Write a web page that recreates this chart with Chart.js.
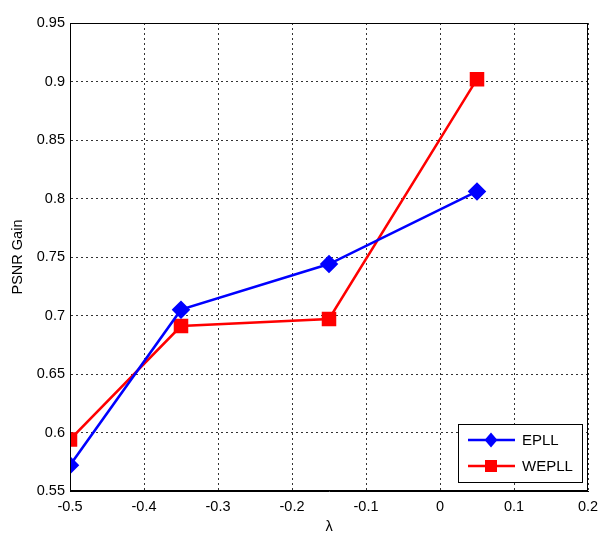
<!DOCTYPE html>
<html>
<head>
<meta charset="utf-8">
<script src="https://cdn.jsdelivr.net/npm/chart.js@4/dist/chart.umd.min.js"></script>
<style>
html,body{margin:0;padding:0;background:#fff;}
#wrap{width:600px;height:538px;position:relative;}
</style>
</head>
<body>
<div id="wrap"><canvas id="c" width="600" height="538"></canvas></div>
<script>
// ---- data ----
const lambdaValues = [-0.5, -0.35, -0.15, 0.05];
const epllGain = [0.572, 0.705, 0.744, 0.806];
const wepllGain = [0.594, 0.691, 0.697, 0.902];
const seriesNames = ['EPLL', 'WEPLL'];
const xTickValues = [-0.5, -0.4, -0.3, -0.2, -0.1, 0, 0.1, 0.2];
const xTickLabels = ['-0.5', '-0.4', '-0.3', '-0.2', '-0.1', '0', '0.1', '0.2'];
const yTickValues = [0.55, 0.6, 0.65, 0.7, 0.75, 0.8, 0.85, 0.9, 0.95];
const yTickLabels = ['0.55', '0.6', '0.65', '0.7', '0.75', '0.8', '0.85', '0.9', '0.95'];
const xTitle = 'λ';
const yTitle = 'PSNR Gain';

const FONT = "'Liberation Sans', Arial, Helvetica, sans-serif";

function toPoints(xs, ys) { return xs.map((x, i) => ({x: x, y: ys[i]})); }

const framePlugin = {
  id: 'frame',
  afterDraw(chart) {
    const {ctx, chartArea: a} = chart;
    ctx.save();
    ctx.strokeStyle = '#000';
    ctx.lineWidth = 1;
    ctx.strokeRect(a.left + 0.5, a.top + 0.5, a.right - a.left - 1, a.bottom - a.top - 1);
    ctx.restore();
  }
};

function drawMarker(ctx, style, x, y, r, color) {
  ctx.fillStyle = color;
  ctx.beginPath();
  if (style === 'rectRot') {
    ctx.moveTo(x, y - r);
    ctx.lineTo(x + r * 0.85, y);
    ctx.lineTo(x, y + r);
    ctx.lineTo(x - r * 0.85, y);
    ctx.closePath();
  } else {
    const s = Math.SQRT1_2 * r;
    ctx.rect(x - s, y - s, 2 * s, 2 * s);
  }
  ctx.fill();
}

const legendPlugin = {
  id: 'innerLegend',
  afterDraw(chart) {
    const {ctx, chartArea: a} = chart;
    const w = 124, h = 58;
    const x0 = a.right - 6 - w, y0 = a.bottom - 9 - h;
    ctx.save();
    ctx.fillStyle = '#fff';
    ctx.fillRect(x0, y0, w, h);
    ctx.strokeStyle = '#000';
    ctx.lineWidth = 1;
    ctx.strokeRect(x0 + 0.5, y0 + 0.5, w, h);
    chart.data.datasets.forEach((ds, i) => {
      const cy = y0 + 16 + i * 26;
      ctx.strokeStyle = ds.borderColor;
      ctx.lineWidth = ds.borderWidth;
      ctx.beginPath();
      ctx.moveTo(x0 + 10, cy);
      ctx.lineTo(x0 + 57, cy);
      ctx.stroke();
      drawMarker(ctx, ds.pointStyle, x0 + 33, cy, ds.pointRadius, ds.backgroundColor);
      ctx.fillStyle = '#000';
      ctx.font = '15px ' + FONT;
      ctx.textBaseline = 'middle';
      ctx.textAlign = 'left';
      ctx.fillText(ds.label, x0 + 64, cy + 1);
    });
    ctx.restore();
  }
};

const gridCommon = {
  color: '#333',
  lineWidth: 1,
  drawTicks: false
};

new Chart(document.getElementById('c'), {
  type: 'scatter',
  data: {
    datasets: [
      {
        label: seriesNames[0],
        data: toPoints(lambdaValues, epllGain),
        showLine: true,
        borderColor: '#0000ff',
        backgroundColor: '#0000ff',
        borderWidth: 2.5,
        pointStyle: 'rectRot',
        pointRadius: 7.5,
        pointHoverRadius: 7.5
      },
      {
        label: seriesNames[1],
        data: toPoints(lambdaValues, wepllGain),
        showLine: true,
        borderColor: '#ff0000',
        backgroundColor: '#ff0000',
        borderWidth: 2.5,
        pointStyle: 'rect',
        pointRadius: 8.5,
        pointHoverRadius: 8.5
      }
    ]
  },
  options: {
    responsive: false,
    animation: false,
    events: [],
    layout: {padding: {top: 23, right: 12, left: 0, bottom: 0}},
    plugins: {legend: {display: false}, tooltip: {enabled: false}},
    scales: {
      x: {
        type: 'linear',
        min: -0.5, max: 0.2,
        afterBuildTicks(scale) { scale.ticks = xTickValues.map(v => ({value: v})); },
        afterFit(scale) { scale.height = 47; scale.paddingLeft = 0; scale.paddingRight = 0; },
        ticks: {
          callback: (v) => { const i = xTickValues.findIndex(t => Math.abs(t - v) < 1e-9); return i >= 0 ? xTickLabels[i] : ''; },
          color: '#000', font: {family: FONT, size: 14.5}, padding: 7, maxRotation: 0, autoSkip: false
        },
        grid: Object.assign({}, gridCommon),
        border: {display: true, color: '#000', width: 1, dash: [2, 3]},
        title: {display: true, text: xTitle, color: '#000', font: {family: FONT, size: 14.5}, padding: {bottom: 2, top: 0}}
      },
      y: {
        type: 'linear',
        min: 0.55, max: 0.95,
        afterBuildTicks(scale) { scale.ticks = yTickValues.map(v => ({value: v})); },
        afterFit(scale) { scale.width = 70; scale.paddingTop = 0; scale.paddingBottom = 0; },
        ticks: {
          callback: (v) => { const i = yTickValues.findIndex(t => Math.abs(t - v) < 1e-9); return i >= 0 ? yTickLabels[i] : ''; },
          color: '#000', font: {family: FONT, size: 14.5}, padding: 5, autoSkip: false
        },
        grid: Object.assign({}, gridCommon),
        border: {display: true, color: '#000', width: 1, dash: [2, 3]},
        title: {display: true, text: yTitle, color: '#000', font: {family: FONT, size: 14.5}, padding: {top: 9, bottom: 0}}
      }
    }
  },
  plugins: [framePlugin, legendPlugin]
});
</script>
</body>
</html>
